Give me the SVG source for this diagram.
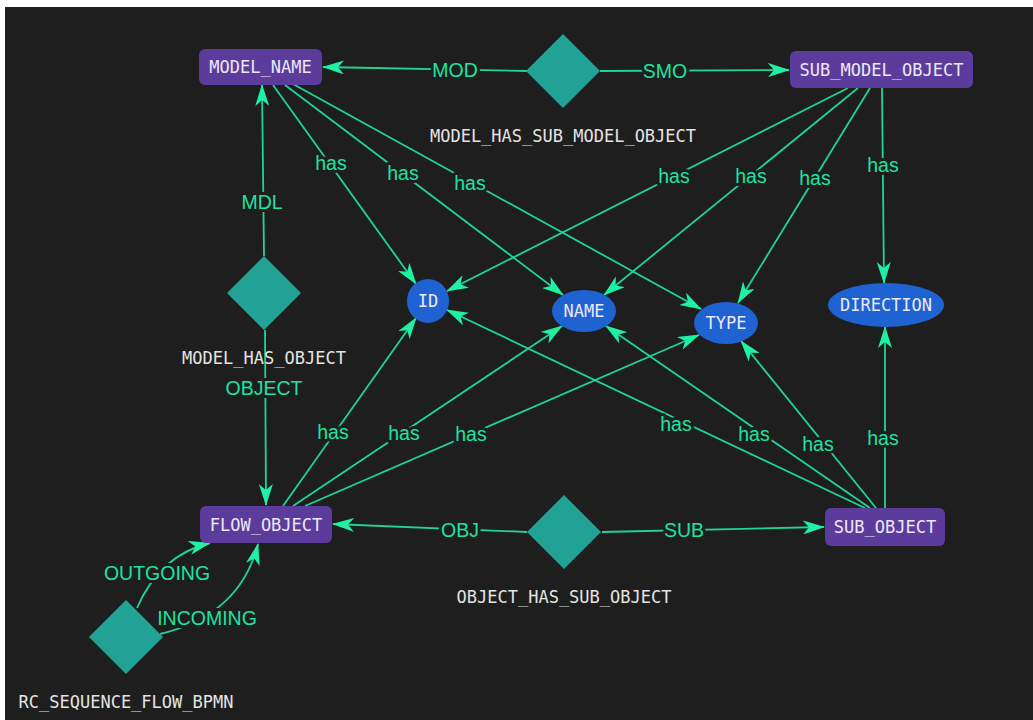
<svg xmlns="http://www.w3.org/2000/svg" width="1033" height="720" viewBox="0 0 1033 720">
  <style>
    .edge { fill: none; stroke: #1fd39a; stroke-width: 1.8; marker-end: url(#arrow); }
    .elabel { font-family: "Liberation Sans", Arial, sans-serif; font-size: 19.5px; fill: #1fe3a0; text-anchor: middle; dominant-baseline: central; stroke: #1e1e1e; stroke-width: 6; paint-order: stroke; stroke-linejoin: round; }
    .lbg { fill: #1e1e1e; }
    .entity { fill: #5b3c9c; }
    .attr { fill: #1f62d2; }
    .rel { fill: #22a294; }
    .ntext { font-family: "DejaVu Sans Mono", "Liberation Mono", monospace; font-size: 17px; fill: #ece8f4; text-anchor: middle; dominant-baseline: central; }
    .rtext { font-family: "DejaVu Sans Mono", "Liberation Mono", monospace; font-size: 17px; fill: #e4e4e4; text-anchor: middle; dominant-baseline: central; }
  </style>
  <defs>
    <marker id="arrow" markerUnits="userSpaceOnUse" viewBox="0 0 22 14" markerWidth="22" markerHeight="14" refX="21" refY="7" orient="auto">
      <path d="M0,0 L22,7 L0,14 L6,7 Z" fill="#1ef0a4"/>
    </marker>
  </defs>

  <!-- canvas -->
  <rect x="0" y="0" width="1033" height="720" fill="#ffffff"/>
  <rect x="5" y="7" width="1028" height="713" fill="#1e1e1e"/>

  <!-- connectors -->
  <g id="edges">
    <path class="edge" d="M527,71 L323,67"/>
    <path class="edge" d="M600,71 L789,70"/>
    <path class="edge" d="M264,256 L262,85"/>
    <path class="edge" d="M265,330 L266,505"/>
    <path class="edge" d="M527,532 L333,524"/>
    <path class="edge" d="M602,532 L824,527"/>
    <path class="edge" d="M137,608 Q160,555 210,543"/>
    <path class="edge" d="M160,634 Q240,615 258,544"/>

    <!-- MODEL_NAME attributes -->
    <path class="edge" d="M273,85 L416,284"/>
    <path class="edge" d="M285,85 L563,295"/>
    <path class="edge" d="M293,84 L701,309"/>
    <!-- SUB_MODEL_OBJECT attributes -->
    <path class="edge" d="M848,88 L447,291"/>
    <path class="edge" d="M858,88 L604,295"/>
    <path class="edge" d="M870,88 L738,303"/>
    <path class="edge" d="M882,88 L884,283"/>
    <!-- FLOW_OBJECT attributes -->
    <path class="edge" d="M283,506 L416,318"/>
    <path class="edge" d="M293,506 L562,326"/>
    <path class="edge" d="M305,506 L699,335"/>
    <!-- SUB_OBJECT attributes -->
    <path class="edge" d="M865,508 L447,310"/>
    <path class="edge" d="M870,508 L606,326"/>
    <path class="edge" d="M876,508 L741,341"/>
    <path class="edge" d="M885,508 L885,327"/>

    <!-- label backings for the role labels -->
    <rect class="lbg" x="433" y="60" width="44" height="20"/>
    <rect class="lbg" x="643" y="61" width="44" height="20"/>
    <rect class="lbg" x="242" y="192" width="40" height="20"/>
    <rect class="lbg" x="229" y="378" width="70" height="20"/>
    <rect class="lbg" x="441" y="520" width="38" height="20"/>
    <rect class="lbg" x="665" y="520" width="38" height="20"/>
    <rect class="lbg" x="104" y="563" width="106" height="20"/>
    <rect class="lbg" x="159" y="608" width="96" height="20"/>

    <text class="elabel" x="455" y="70">MOD</text>
    <text class="elabel" x="665" y="71">SMO</text>
    <text class="elabel" x="262" y="202">MDL</text>
    <text class="elabel" x="264" y="388">OBJECT</text>
    <text class="elabel" x="460" y="530">OBJ</text>
    <text class="elabel" x="684" y="530">SUB</text>
    <text class="elabel" x="157" y="573">OUTGOING</text>
    <text class="elabel" x="207" y="618">INCOMING</text>

    <text class="elabel" x="331" y="163">has</text>
    <text class="elabel" x="403" y="173">has</text>
    <text class="elabel" x="470" y="183">has</text>
    <text class="elabel" x="674" y="176">has</text>
    <text class="elabel" x="751" y="176">has</text>
    <text class="elabel" x="815" y="178">has</text>
    <text class="elabel" x="883" y="165">has</text>
    <text class="elabel" x="333" y="432">has</text>
    <text class="elabel" x="404" y="433">has</text>
    <text class="elabel" x="471" y="434">has</text>
    <text class="elabel" x="676" y="424">has</text>
    <text class="elabel" x="754" y="434">has</text>
    <text class="elabel" x="818" y="444">has</text>
    <text class="elabel" x="883" y="438">has</text>
  </g>

  <!-- entities -->
  <g id="MODEL_NAME">
    <rect class="entity" x="199" y="49" width="123" height="36" rx="6"/>
    <text class="ntext" x="260.5" y="67">MODEL_NAME</text>
  </g>
  <g id="SUB_MODEL_OBJECT">
    <rect class="entity" x="790" y="51" width="183" height="37" rx="6"/>
    <text class="ntext" x="881.5" y="69.5">SUB_MODEL_OBJECT</text>
  </g>
  <g id="FLOW_OBJECT">
    <rect class="entity" x="200" y="506" width="132" height="37" rx="6"/>
    <text class="ntext" x="266" y="524.5">FLOW_OBJECT</text>
  </g>
  <g id="SUB_OBJECT">
    <rect class="entity" x="825" y="508" width="120" height="38" rx="6"/>
    <text class="ntext" x="885" y="527">SUB_OBJECT</text>
  </g>

  <!-- attributes -->
  <g id="ID">
    <ellipse class="attr" cx="428" cy="301" rx="21" ry="22"/>
    <text class="ntext" x="428" y="301">ID</text>
  </g>
  <g id="NAME">
    <ellipse class="attr" cx="584" cy="311" rx="32" ry="21"/>
    <text class="ntext" x="584" y="311">NAME</text>
  </g>
  <g id="TYPE">
    <ellipse class="attr" cx="726" cy="323" rx="32" ry="21"/>
    <text class="ntext" x="726" y="323">TYPE</text>
  </g>
  <g id="DIRECTION">
    <ellipse class="attr" cx="886" cy="305" rx="58" ry="22"/>
    <text class="ntext" x="886" y="305">DIRECTION</text>
  </g>

  <!-- relationships -->
  <g id="MODEL_HAS_SUB_MODEL_OBJECT">
    <polygon class="rel" points="563,34 600,71 563,108 526,71"/>
    <text class="rtext" x="563" y="136">MODEL_HAS_SUB_MODEL_OBJECT</text>
  </g>
  <g id="MODEL_HAS_OBJECT">
    <polygon class="rel" points="264,256 301,293 264,330 227,293"/>
    <text class="rtext" x="264" y="358">MODEL_HAS_OBJECT</text>
  </g>
  <g id="OBJECT_HAS_SUB_OBJECT">
    <polygon class="rel" points="564,495 601,532 564,569 527,532"/>
    <text class="rtext" x="564" y="597">OBJECT_HAS_SUB_OBJECT</text>
  </g>
  <g id="RC_SEQUENCE_FLOW_BPMN">
    <polygon class="rel" points="126,600 163,637 126,674 89,637"/>
    <text class="rtext" x="126" y="702">RC_SEQUENCE_FLOW_BPMN</text>
  </g>
</svg>
